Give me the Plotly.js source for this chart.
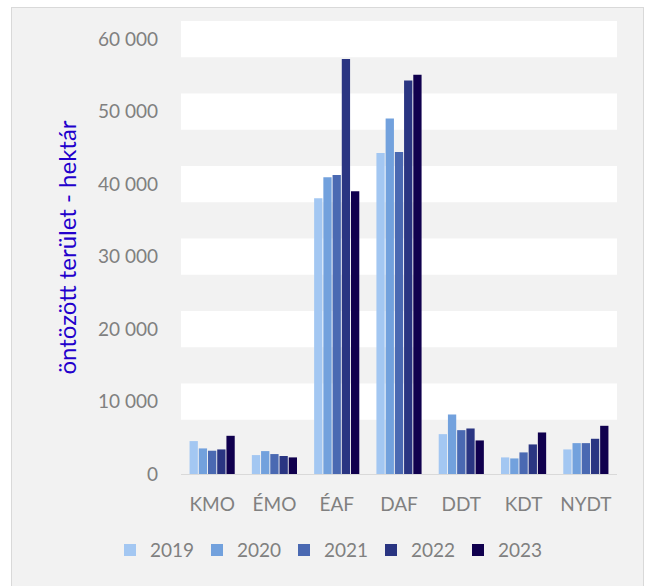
<!DOCTYPE html>
<html>
<head>
<meta charset="utf-8">
<script src="https://cdn.plot.ly/plotly-3.0.1.min.js"></script>
<style>
  html, body { margin: 0; padding: 0; background: #ffffff; overflow: hidden; width: 649px; height: 586px; }
  #chart { position: absolute; left: 12px; top: 8px; width: 631px; height: 590px; background: #f2f2f2; outline: 1px solid #d9d9d9; }
</style>
</head>
<body>
<div id="chart"></div>
<script>
const categories = ["KMO", "ÉMO", "ÉAF", "DAF", "DDT", "KDT", "NYDT"];
const years = ["2019", "2020", "2021", "2022", "2023"];
const v2019 = [4540, 2610, 38060, 44290, 5500, 2290, 3390];
const v2020 = [3530, 3160, 40950, 49060, 8210, 2150, 4260];
const v2021 = [3210, 2750, 41270, 44430, 6050, 2980, 4260];
const v2022 = [3390, 2480, 57270, 54290, 6280, 4080, 4860];
const v2023 = [5270, 2290, 39020, 55070, 4630, 5730, 6650];
const seriesValues = [v2019, v2020, v2021, v2022, v2023];
const colors = ["#a3c7f2", "#72a1dd", "#4a69b2", "#2a3582", "#10004e"];
const yTicks = [0, 10000, 20000, 30000, 40000, 50000, 60000];
const yTitle = "öntözött terület - hektár";

const traces = years.map((yr, i) => ({
  type: "bar",
  name: yr,
  x: categories,
  y: seriesValues[i],
  marker: { color: colors[i], line: { width: 0 } },
  hoverinfo: "x+y+name"
}));

// interlaced white bands centred on each major tick (chart styling)
const shapes = yTicks.filter(t => t > 0).map(t => ({
  type: "rect", xref: "paper", yref: "y", layer: "below",
  x0: 0, x1: 1, y0: t - 2500, y1: t + 2500,
  fillcolor: "#ffffff", line: { width: 0 }
}));

const font = "Lato, 'Open Sans', sans-serif";

const layout = {
  width: 631, height: 590,
  margin: { l: 169, r: 26, t: 13, b: 124 },
  paper_bgcolor: "#f2f2f2",
  plot_bgcolor: "#f2f2f2",
  separators: ". ",
  barmode: "group",
  bargap: 0.26,
  bargroupgap: 0.1,
  showlegend: true,
  font: { family: font, color: "#808080", size: 19 },
  xaxis: {
    type: "category",
    showgrid: false,
    showline: true, linecolor: "#d9d9d9", linewidth: 1,
    ticks: "",
    tickfont: { family: font, size: 19, color: "#808080" },
    ticklabelstandoff: 13
  },
  yaxis: {
    range: [0, 62500],
    tickvals: yTicks,
    tickformat: ",d",
    showgrid: false, zeroline: false, showline: false,
    ticks: "",
    tickfont: { family: font, size: 19, color: "#808080" },
    ticklabelstandoff: 22,
    title: {
      text: yTitle,
      font: { family: font, size: 24, color: "#2200cc" },
      standoff: 14
    }
  },
  legend: {
    orientation: "h",
    xref: "container", yref: "container",
    x: 0.5, xanchor: "center",
    y: 0.081, yanchor: "middle",
    entrywidth: 42, entrywidthmode: "pixels",
    font: { family: font, size: 19, color: "#808080" },
    bgcolor: "rgba(0,0,0,0)",
    traceorder: "normal"
  },
  shapes: shapes
};

Plotly.newPlot("chart", traces, layout, { displayModeBar: false, staticPlot: true });
</script>
</body>
</html>
